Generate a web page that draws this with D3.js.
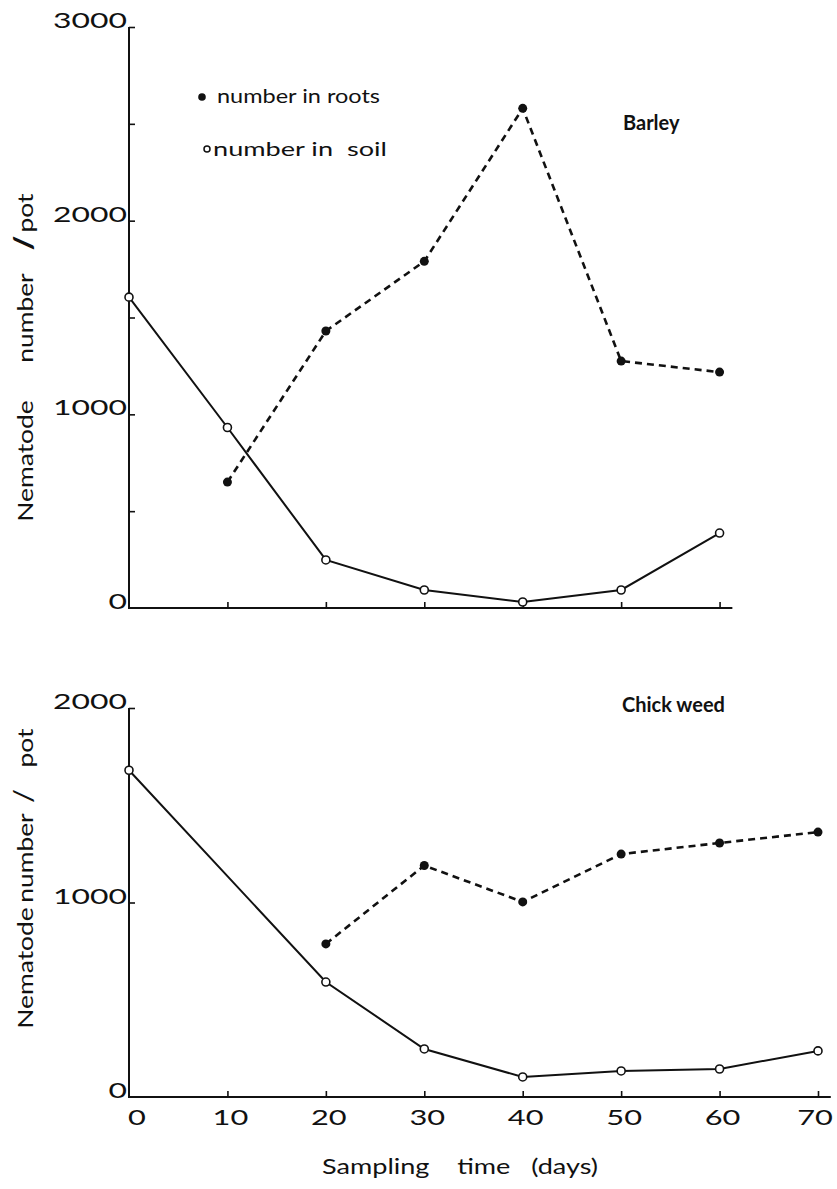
<!DOCTYPE html>
<html>
<head>
<meta charset="utf-8">
<script src="https://cdn.jsdelivr.net/npm/d3@7"></script>
<style>
  html, body { margin: 0; padding: 0; background: #fff; }
  svg { display: block; }
  text { fill: #111; }
</style>
</head>
<body>
<script>
// Nematode counts per pot over sampling time, two host plants.
const days = [0, 10, 20, 30, 40, 50, 60, 70];

// Barley
const barleySoilDays  = [0, 10, 20, 30, 40, 50, 60];
const barleySoil      = [1605, 932, 248, 93, 31, 93, 387];
const barleyRootDays  = [10, 20, 30, 40, 50, 60];
const barleyRoots     = [650, 1430, 1790, 2580, 1275, 1218];

// Chick weed
const chickSoilDays   = [0, 20, 30, 40, 50, 60, 70];
const chickSoil       = [1680, 591, 247, 103, 134, 144, 237];
const chickRootDays   = [20, 30, 40, 50, 60, 70];
const chickRoots      = [787, 1190, 1003, 1249, 1306, 1362];

const barleyYTicks = [0, 1000, 2000, 3000];
const barleyYMinor = [500, 1500, 2500];
const chickYTicks  = [0, 1000, 2000];
const barleyXTicks = [10, 20, 30, 40, 50, 60];
const chickXTicks  = [10, 20, 30, 40, 50, 60, 70];

const W = 837, H = 1189;
const FONT = "Lato, 'Open Sans', 'DejaVu Sans', sans-serif";

const svg = d3.select("body").append("svg")
  .attr("width", W).attr("height", H)
  .attr("viewBox", `0 0 ${W} ${H}`);

const x = d3.scaleLinear().domain([0, 70]).range([129, 818]);

const panels = [
  {
    name: "Barley",
    y: d3.scaleLinear().domain([0, 3000]).range([608, 27]),
    yTicks: barleyYTicks, yMinor: barleyYMinor,
    xTicks: barleyXTicks, xEnd: 61.3, xLabels: false,
    soil: barleySoilDays.map((d, i) => [d, barleySoil[i]]),
    roots: barleyRootDays.map((d, i) => [d, barleyRoots[i]]),
    title: { x: 623, y: 130 },
    ytitle: { x: 25, words: [["Nematode", 461], ["number", 318], ["/", 243], ["pot", 213]], boldSlash: true },
    legend: true
  },
  {
    name: "Chick weed",
    y: d3.scaleLinear().domain([0, 2000]).range([1097, 708]),
    yTicks: chickYTicks, yMinor: [],
    xTicks: chickXTicks, xEnd: 71.3, xLabels: true,
    soil: chickSoilDays.map((d, i) => [d, chickSoil[i]]),
    roots: chickRootDays.map((d, i) => [d, chickRoots[i]]),
    title: { x: 622, y: 712 },
    ytitle: { x: 25, words: [["Nematode", 968], ["number", 858], ["/", 796], ["pot", 748]], boldSlash: false },
    legend: false
  }
];

// Wide, round lettering for the numerals
function stretchedText(g, str, px, py, anchor, size, sx) {
  return g.append("text")
    .attr("font-family", FONT)
    .attr("font-weight", 400)
    .attr("font-size", size)
    .attr("text-anchor", anchor)
    .attr("transform", `translate(${px},${py}) scale(${sx},1)`)
    .text(str);
}

panels.forEach(p => {
  const g = svg.append("g");
  const y = p.y;

  // y axis line
  g.append("line")
    .attr("x1", x(0)).attr("x2", x(0))
    .attr("y1", y(p.yTicks[p.yTicks.length - 1])).attr("y2", y(0) + 1)
    .attr("stroke", "#111").attr("stroke-width", 2);

  // x axis line
  g.append("line")
    .attr("x1", x(0) - 1).attr("x2", x(p.xEnd))
    .attr("y1", y(0)).attr("y2", y(0))
    .attr("stroke", "#111").attr("stroke-width", 2);

  // y ticks pointing inward
  const yAxis = d3.axisRight(y)
    .tickValues(p.yTicks.concat(p.yMinor).filter(v => v > 0))
    .tickSize(6).tickFormat("");
  const ya = g.append("g").attr("transform", `translate(${x(0)},0)`).call(yAxis);
  ya.select(".domain").remove();
  ya.selectAll(".tick line").attr("stroke", "#111").attr("stroke-width", 1.6);

  // x ticks pointing inward
  const xAxis = d3.axisTop(x).tickValues(p.xTicks).tickSize(6).tickFormat("");
  const xa = g.append("g").attr("transform", `translate(0,${y(0)})`).call(xAxis);
  xa.select(".domain").remove();
  xa.selectAll(".tick line").attr("stroke", "#111").attr("stroke-width", 1.6);

  // y tick labels
  p.yTicks.forEach(v => {
    stretchedText(g, String(v), x(0) - 2, y(v) + 1, "end", 22, 1.45);
  });

  // x tick labels
  if (p.xLabels) {
    [0].concat(p.xTicks).forEach(v => {
      const dx = v === 0 ? 8 : (v === 70 ? -3 : 3);
      stretchedText(g, String(v), x(v) + dx, y(0) + 28, "middle", 22, 1.4);
    });
  }

  // y axis title, word by word along the rotated baseline
  p.ytitle.words.forEach(([w, cy]) => {
    const isSlash = w === "/";
    g.append("text")
      .attr("font-family", FONT)
      .attr("font-weight", isSlash && p.ytitle.boldSlash ? 900 : 400)
      .attr("font-size", isSlash ? 26 : 22)
      .attr("text-anchor", "middle")
      .attr("transform", `translate(${p.ytitle.x + 8},${cy}) rotate(-90) scale(1.2,1)`)
      .text(w);
  });

  // panel title
  g.append("text")
    .attr("x", p.title.x).attr("y", p.title.y)
    .attr("font-family", FONT).attr("font-weight", 700)
    .attr("font-size", 20)
    .text(p.name);

  const line = d3.line().x(d => x(d[0])).y(d => y(d[1]));

  // soil: solid line, open circles
  g.append("path").datum(p.soil)
    .attr("d", line).attr("fill", "none")
    .attr("stroke", "#111").attr("stroke-width", 2);

  // roots: dashed line, filled circles
  g.append("path").datum(p.roots)
    .attr("d", line).attr("fill", "none")
    .attr("stroke", "#111").attr("stroke-width", 2.6)
    .attr("stroke-dasharray", "7,5");

  g.selectAll(".soil").data(p.soil).join("circle")
    .attr("class", "soil")
    .attr("cx", d => x(d[0])).attr("cy", d => y(d[1]))
    .attr("r", 4).attr("fill", "#fff")
    .attr("stroke", "#111").attr("stroke-width", 1.6);

  g.selectAll(".roots").data(p.roots).join("circle")
    .attr("class", "roots")
    .attr("cx", d => x(d[0])).attr("cy", d => y(d[1]))
    .attr("r", 4.5).attr("fill", "#111");

  if (p.legend) {
    const lg = g.append("g");
    lg.append("circle").attr("cx", 202).attr("cy", 97).attr("r", 3.8).attr("fill", "#111");
    lg.append("text").attr("x", 217).attr("y", 103)
      .attr("font-family", FONT).attr("font-weight", 400).attr("font-size", 20)
      .attr("textLength", 163).attr("lengthAdjust", "spacingAndGlyphs")
      .text("number in roots");
    lg.append("circle").attr("cx", 207).attr("cy", 149).attr("r", 3)
      .attr("fill", "#fff").attr("stroke", "#111").attr("stroke-width", 1.5);
    lg.append("text").attr("x", 213).attr("y", 156)
      .attr("font-family", FONT).attr("font-weight", 400).attr("font-size", 20)
      .attr("textLength", 174).attr("lengthAdjust", "spacingAndGlyphs")
      .attr("xml:space", "preserve")
      .text("number in  soil");
  }
});

// x axis title
svg.append("text")
  .attr("font-family", FONT).attr("font-weight", 400).attr("font-size", 21)
  .attr("x", 322).attr("y", 1174)
  .attr("textLength", 276).attr("lengthAdjust", "spacingAndGlyphs")
  .attr("xml:space", "preserve")
  .text("Sampling    time   (days)");
</script>
</body>
</html>
